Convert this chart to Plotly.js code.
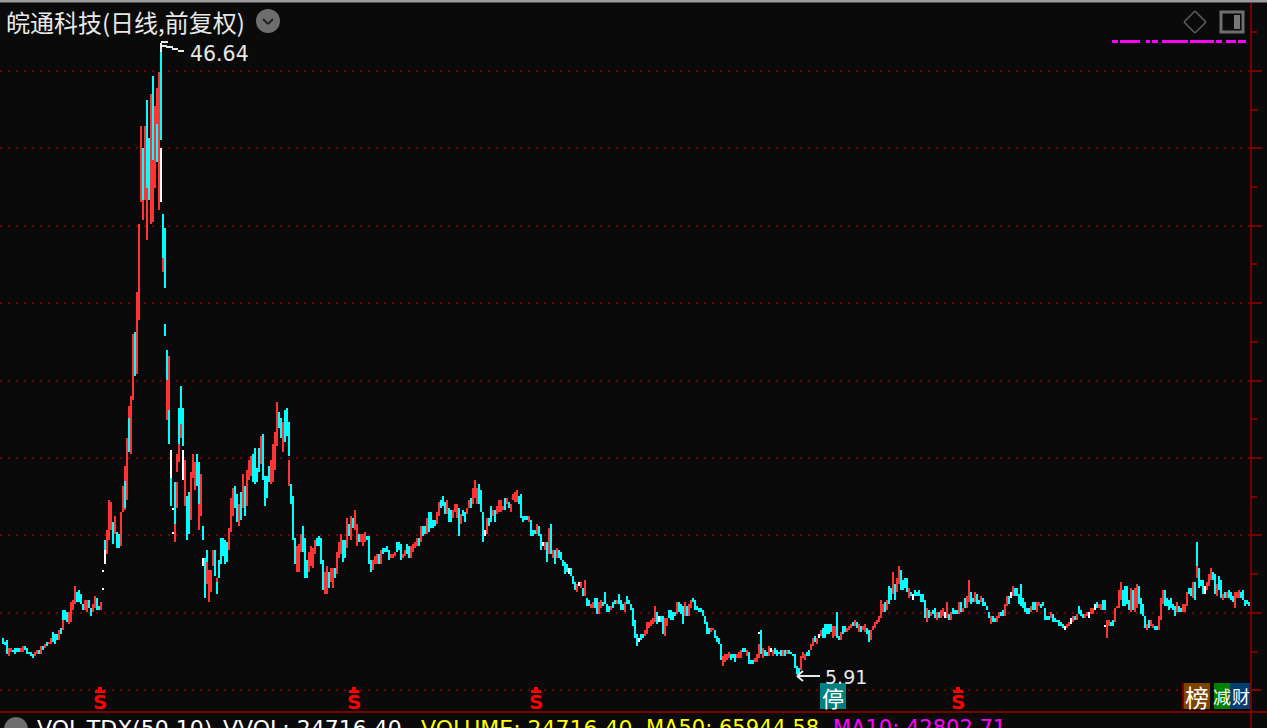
<!DOCTYPE html>
<html>
<head>
<meta charset="utf-8">
<script src="https://cdn.plot.ly/plotly-3.0.1.min.js"></script>
<style>html,body{margin:0;padding:0;background:#0a0a0a;overflow:hidden}#chart{width:1267px;height:728px}</style>
</head>
<body>
<div id="chart"></div>
<script>
const high = [
8.36,8.11,8.24,7.72,7.72,7.59,7.72,7.72,7.72,7.72,
7.85,7.85,7.72,7.46,7.46,7.33,7.46,7.59,7.59,7.85,
7.85,7.98,8.11,8.11,8.36,8.75,8.62,8.62,8.88,9.01,
10.17,10.17,10.04,10.04,10.69,10.82,11.72,11.33,11.46,11.21,
10.56,10.82,10.82,10.82,10.3,10.56,11.08,10.95,10.43,10.69,
11.6,14.71,15.36,17.30,17.17,15.88,16.26,15.23,15.10,16.52,
18.20,19.49,21.30,23.37,24.01,28.02,28.15,30.73,35.12,41.45,
40.03,41.45,43.13,40.67,43.51,44.68,42.74,43.90,44.93,46.64,
35.76,34.86,26.98,26.60,20.53,16.78,18.46,20.27,23.24,24.66,
23.24,19.88,17.56,17.81,19.10,20.27,19.75,20.27,19.75,18.98,
15.62,13.55,14.07,12.78,12.78,14.07,14.07,12.26,13.42,14.84,
14.84,14.71,14.58,15.49,17.43,18.07,18.20,17.68,17.04,17.81,
18.98,18.20,19.23,19.88,20.14,20.27,20.65,19.36,20.65,21.43,
21.56,18.85,18.85,19.49,19.88,20.91,21.69,23.63,22.98,22.59,
22.33,23.11,23.24,22.33,18.33,17.56,14.84,14.33,14.46,15.10,
15.62,14.84,13.42,13.94,14.33,14.20,14.71,14.84,14.97,14.84,
13.42,12.65,13.03,12.65,12.91,12.91,12.91,13.94,14.58,15.10,
14.71,14.71,16.13,15.75,16.26,16.13,16.65,15.75,15.10,15.10,
15.10,15.23,14.97,14.97,13.42,13.42,13.68,13.81,13.81,14.07,
14.20,14.20,14.33,14.07,13.81,13.81,13.94,14.58,14.58,14.46,
13.81,14.07,14.46,14.33,14.33,14.46,14.58,14.84,14.84,15.62,
15.62,15.62,16.13,16.52,16.52,16.01,16.01,16.52,17.17,17.30,
17.56,17.17,17.30,16.78,16.65,16.65,17.04,17.04,16.78,16.39,
16.65,16.52,16.78,17.30,17.43,18.07,18.59,18.07,18.33,17.94,
16.52,15.36,16.13,16.13,16.91,16.65,16.65,16.91,17.30,17.30,
16.91,17.43,17.43,17.17,17.04,17.68,17.81,17.94,17.56,17.68,
16.26,16.26,16.26,16.26,16.01,15.36,15.36,15.75,15.62,15.10,
14.58,14.58,14.58,15.49,15.75,14.07,14.07,14.20,14.07,13.94,
13.42,13.29,13.16,12.91,12.91,12.39,12.0,11.87,12.0,12.0,
11.61,12.13,10.97,10.84,10.58,10.71,10.97,10.97,10.71,10.84,
10.71,11.36,10.58,10.45,10.45,10.71,10.84,10.84,11.23,10.84,
10.58,10.71,11.10,10.84,10.58,10.32,9.55,8.64,8.39,8.64,
8.64,8.90,9.42,9.42,9.55,9.68,10.45,10.06,9.81,9.81,
9.81,9.68,9.68,10.19,10.19,10.06,10.06,10.71,10.71,10.58,
10.45,10.71,10.45,10.58,10.84,10.97,10.84,10.45,10.32,10.32,
10.19,9.81,9.42,9.03,9.03,9.03,8.90,8.51,8.39,8.0,
7.22,7.35,7.35,7.48,7.35,7.35,7.35,7.35,7.48,7.61,
7.74,7.74,7.61,7.48,6.97,6.97,7.09,7.35,8.0,8.90,
7.74,7.61,7.48,7.87,7.74,7.61,7.74,7.61,7.48,7.61,
7.61,7.61,7.61,7.61,7.48,7.35,7.35,6.58,6.45,7.22,
7.48,7.35,7.48,7.61,8.0,8.39,8.51,8.39,8.64,8.90,
9.03,9.29,9.29,9.29,9.29,9.16,9.16,10.06,8.51,8.77,
9.16,9.16,9.03,9.16,9.29,9.42,9.55,9.42,9.29,9.16,
9.16,9.29,9.03,8.90,8.90,9.16,9.42,9.55,9.81,10.84,
10.58,10.71,10.84,11.74,11.61,12.65,11.87,12.26,13.03,12.78,
12.13,12.26,12.26,11.61,11.36,11.23,11.49,11.36,11.49,11.23,
11.23,10.84,10.32,10.19,10.06,10.19,10.32,10.06,10.06,10.19,
10.32,10.06,10.71,9.94,10.06,10.32,10.19,10.19,10.71,10.71,
10.32,10.97,11.10,12.13,11.36,10.97,11.36,11.23,10.84,11.10,
10.97,10.71,10.45,10.06,9.81,9.81,9.68,9.81,10.06,10.06,
10.19,10.58,11.10,11.10,11.36,11.74,11.61,11.61,11.23,11.87,
10.97,10.71,10.32,10.32,10.45,10.71,10.71,10.71,10.71,10.58,
10.71,10.32,9.81,9.81,10.06,9.94,9.68,9.55,9.55,9.42,
9.29,9.16,9.29,9.42,9.68,9.81,9.81,9.94,10.45,10.19,
9.94,9.94,10.06,10.06,10.32,10.32,10.58,10.71,10.58,10.58,
10.84,10.84,9.55,9.55,9.42,9.55,10.32,10.45,11.49,12.0,
11.49,11.74,11.74,10.84,11.61,11.49,11.61,11.87,11.74,10.97,
10.58,9.81,9.29,9.55,9.55,9.29,9.16,9.16,9.81,10.97,
11.49,11.49,10.97,10.84,10.97,10.58,10.45,10.71,10.45,10.32,
10.58,10.58,11.36,11.61,11.61,12.0,12.0,14.58,12.91,12.13,
12.13,11.74,12.0,12.52,12.91,12.65,12.52,11.87,12.39,12.13,
11.23,11.36,11.36,11.49,11.36,11.10,11.36,11.36,11.49,11.36,
11.49,10.84,10.84,10.71];
const low = [
7.98,7.92,7.33,7.2,7.46,7.46,7.33,7.46,7.46,7.46,
7.46,7.59,7.33,7.33,7.2,7.07,7.2,7.33,7.33,7.33,
7.59,7.72,7.85,7.98,7.98,8.11,7.98,8.24,8.24,8.62,
9.53,9.53,9.4,9.27,9.4,10.17,10.56,10.69,10.69,10.56,
10.17,10.17,10.04,10.3,9.78,10.04,10.3,10.17,10.17,10.17,
11.5,14.07,13.81,14.71,15.36,14.46,15.10,14.20,14.20,14.33,
16.52,16.65,17.30,20.40,20.27,23.75,25.30,25.43,28.92,36.54,
36.67,36.67,37.44,36.67,35.12,39.25,37.44,39.12,36.02,40.54,
32.92,30.99,25.05,23.11,18.72,16.65,15.75,19.10,20.91,22.2,
20.78,16.91,14.71,15.10,16.01,18.72,17.94,18.20,17.04,16.26,
14.71,10.97,13.29,10.71,11.36,13.03,12.39,12.0,12.26,13.16,
13.68,13.16,13.29,14.07,15.23,16.26,16.78,15.88,15.62,16.01,
16.78,16.26,16.91,18.59,18.85,18.46,18.33,18.46,19.10,19.62,
18.59,16.91,17.43,18.46,18.33,18.46,19.23,20.78,21.95,21.30,
20.40,21.04,21.43,20.14,17.04,14.71,13.16,12.65,12.65,13.94,
13.94,12.26,12.26,12.65,13.03,12.91,13.81,14.33,14.33,13.16,
11.49,11.23,11.23,11.61,12.0,11.61,12.26,12.52,13.55,13.81,
13.29,13.55,14.20,14.97,14.71,15.49,15.36,14.33,14.58,14.58,
14.33,14.58,14.71,13.16,12.65,12.78,13.16,13.16,13.16,13.16,
13.81,13.94,13.94,13.42,13.55,13.55,13.68,13.94,14.07,13.42,
13.55,13.68,13.81,13.55,13.55,13.94,14.20,14.33,14.33,14.58,
14.97,15.10,15.10,15.23,15.49,15.49,15.62,15.75,16.26,16.78,
16.91,16.39,16.39,15.88,15.88,16.13,16.52,16.13,14.97,15.75,
16.26,15.88,16.39,16.78,16.78,17.04,17.43,17.04,17.04,16.52,
14.58,14.97,15.10,15.62,15.88,16.26,15.88,16.39,16.52,16.52,
16.65,16.65,17.04,16.78,16.52,17.30,17.17,17.17,17.04,16.13,
15.88,16.01,16.01,15.88,14.97,14.97,15.10,15.10,14.97,14.07,
14.33,14.07,13.29,13.81,13.81,13.55,13.16,13.55,13.55,13.42,
13.03,12.52,12.65,12.52,12.39,11.87,11.49,11.36,11.74,11.61,
11.10,11.10,10.45,10.45,10.32,10.32,10.32,9.94,9.94,10.32,
10.45,10.58,10.06,10.06,10.19,10.32,10.58,10.58,10.58,10.19,
10.19,10.06,10.58,10.58,10.19,9.16,8.39,7.87,8.13,8.26,
8.39,8.51,8.64,9.03,9.16,9.29,9.42,9.29,9.42,9.42,
8.64,8.51,9.16,9.68,9.55,9.55,9.81,9.94,10.06,9.94,
9.29,9.81,9.81,9.81,10.32,10.71,10.19,10.19,10.06,10.06,
9.81,9.29,8.64,8.64,8.77,8.90,8.39,8.13,8.0,6.97,
6.58,6.84,6.97,7.09,6.97,7.09,6.84,7.09,7.09,7.09,
7.48,7.48,7.22,6.71,6.71,6.71,6.84,6.84,7.09,7.35,
7.09,7.22,7.22,7.22,7.48,7.22,7.35,7.22,7.35,7.22,
7.22,7.22,7.35,7.35,7.35,7.22,6.45,6.06,5.91,6.32,
7.09,6.97,7.22,7.22,7.61,7.87,8.13,8.0,8.39,8.51,
8.39,8.39,8.64,8.64,8.77,8.39,8.51,8.39,8.26,8.26,
8.64,8.77,8.77,8.90,9.03,9.16,9.16,9.03,8.77,8.77,
8.90,8.77,8.64,8.13,8.26,8.90,9.03,9.29,9.42,9.68,
10.06,10.06,10.19,10.58,10.84,11.23,10.84,11.36,11.87,11.49,
11.49,11.61,11.36,10.97,11.10,10.84,11.10,11.10,11.10,10.71,
10.71,9.68,9.42,9.68,9.81,9.94,9.68,9.55,9.68,9.68,
9.81,9.68,9.68,9.55,9.55,9.94,9.94,9.94,9.94,10.06,
10.06,10.32,10.32,10.71,10.58,10.71,10.71,10.58,10.58,10.71,
10.45,10.45,10.19,9.68,9.29,9.42,9.42,9.42,9.68,9.81,
9.81,9.81,10.45,10.58,10.97,11.10,11.10,11.10,10.58,10.45,
10.32,10.06,9.94,9.94,10.06,10.19,10.19,10.06,10.45,10.32,
10.45,9.55,9.55,9.55,9.68,9.42,9.42,9.42,9.16,9.16,
9.03,8.90,9.03,9.16,9.29,9.42,9.55,9.55,9.94,9.81,
9.68,9.68,9.81,9.68,9.94,9.94,10.19,10.32,10.32,10.19,
10.19,10.19,8.39,9.16,9.16,9.16,9.42,10.32,10.32,10.84,
10.45,10.45,10.58,10.19,10.06,10.19,10.06,10.32,10.58,9.94,
9.81,9.03,8.90,9.03,9.16,9.03,8.90,8.90,8.90,9.55,
10.58,10.45,10.45,10.19,10.32,10.19,9.81,10.06,10.06,10.06,
10.06,10.06,10.45,11.23,11.10,10.97,10.84,13.03,11.61,11.74,
11.23,11.23,11.49,11.74,12.13,12.13,11.23,11.10,11.49,10.97,
10.84,10.97,10.97,10.97,10.84,10.71,10.32,10.97,10.97,10.97,
10.84,10.45,10.58,10.45];
// r = rising day, c = falling day, w = unchanged day
const tone = [
"cccrrccccr","rcccccrrcr","crcrrcccrc","cccrrrrccc","crrccrrccr",
"wcrrrcrccr","rrrrrrcrrr","crccrcrrrc","cccrwwcrcc","crccrrrccr",
"cccrrrcrcc","cccrrrccrc","rcrrrccccr","ccccrrrrcc","rccccccrrr",
"cccrrrrccc","crrcrrcrrr","ccrcrcrrcr","rrcccrrrcr","ccccrrrccc",
"rrccrrrrcr","ccrccccrrc","ccrccrrrcr","ccrrcrrrcc","cwrccrcrrr",
"rcrcrrrrcc","cccrcccrcc","wrcrcrcrcc","cccwcccrwr","crccrrccrr",
"ccccrccrcc","crccccccwc","crrrrrrcwc","crrccccrcc","crcrrccccc",
"ccccrrcccc","rrrrcccrrr","ccrcccrrrc","rccrwrcccc","rcrccccccr",
"rrccrrcrwr","cccccrrccr","ccrrrcrcrc","rrccrrrrrr","rcrccrcrrc",
"cccrcwcccc","ccrcrccrcr","rwrcrcccrc","rcrrccrccr","ccccrccrrc",
"crrcwrcccc","ccccrccrrc","ccccrccccc","cwrrwrcrcc","crrwrrwcrr",
"ccrrccrrrr","ccccrcrrcc","ccrcrrccrr","rccccccrcc","rrrccrcccc",
"cwrrrccrcc","rcrcccrrrc","cccc"].join("");
// Second colour inside a day's column, or a detached stretch of it
const extraDay  = [30,50,51,61,63,70,72,75,77,79,80,81,82,83,84,85,86,87,88,89,90,98,100,102,107,143,378,551,597];
const extraHigh = [9.53,12.78,14.07,18.52,22.59,36.67,37.44,39.25,41.58,40.03,32.92,28.66,25.05,23.11,18.72,15.23,15.75,18.46,20.91,22.2,20.53,17.04,13.55,13.29,12.0,19.88,8.77,9.2,13.03];
const extraLow  = [8.88,12.65,13.16,16.78,20.40,35.38,34.09,35.25,39.12,36.54,32.02,27.89,22.46,20.91,16.91,15.10,14.58,16.78,19.75,21.30,18.59,15.36,13.03,11.87,11.23,18.20,8.64,9.1,12.26];
const extraTone = "rwwccrrrcwrcrccwrrrrwrwrcrwwr";
const titleText = "皖通科技(日线,前复权)";
const peakLabel = "46.64";
const troughLabel = "5.91";
const indicatorLabels = ["VOL-TDX(50,10)","VVOL: 24716.40","VOLUME: 24716.40","MA50: 65944.58","MA10: 42802.71"];
const signalDays = [48,175,266,477];

const palette = {r:"#ff3333", c:"#00ffff", w:"#ffffff"};
const W=1251, T=3, B=712;
const X = p => p/W, Y = p => 1-(p-T)/(B-T);
const days = high.map((_,i)=>i);

const traces = [
 {type:"bar", x:days, base:low, y:high.map((h,i)=>h-low[i]), width:1,
  marker:{color:days.map(i=>palette[tone[i]]), line:{width:0}}, hoverinfo:"skip", showlegend:false},
 {type:"bar", x:extraDay, base:extraLow, y:extraHigh.map((h,i)=>h-extraLow[i]), width:1,
  marker:{color:extraDay.map((_,i)=>palette[extraTone[i]]), line:{width:0}}, hoverinfo:"skip", showlegend:false}
];

const DARK="#7a0000", TXT="#e8e8e8", CJK='"Noto Sans CJK SC","Noto Sans",sans-serif', LAT='"DejaVu Sans",sans-serif';
const rect=(x0,y0,x1,y1,fill,line,lw)=>({type:"rect",xref:"paper",yref:"paper",x0:X(x0),x1:X(x1),y0:Y(y0),y1:Y(y1),fillcolor:fill||"rgba(0,0,0,0)",line:{color:line||"rgba(0,0,0,0)",width:lw||0}});
const seg=(x0,y0,x1,y1,c,w)=>({type:"line",xref:"paper",yref:"paper",x0:X(x0),x1:X(x1),y0:Y(y0),y1:Y(y1),line:{color:c,width:w}});
const note=(t,x,y,size,color,anchor,fam,ya)=>({text:t,xref:"paper",yref:"paper",x:X(x),y:Y(y),xanchor:anchor||"left",yanchor:ya||"middle",showarrow:false,borderpad:0,font:{size:size,color:color,family:fam||LAT}});

const shapes=[
 rect(0,0,1267,2.5,"#9a9a9a"),
 seg(0,712,1267,712,DARK,2),
 seg(1251,3,1251,728,DARK,2),
 // peak and trough pointers
 seg(161,43,161,52,TXT,2), seg(161,42,168,42,TXT,2), seg(161,46,167,46,TXT,2),
 seg(166,47,173,47,TXT,2), seg(172,49,178,49,TXT,2), seg(178,51,184,51,TXT,2),
 seg(797,676,820,676,TXT,2), seg(797,676,803,671,TXT,2), seg(797,676,803,681,TXT,2),
 // header icons
 {type:"circle",xref:"paper",yref:"paper",x0:X(256),x1:X(280),y0:Y(9),y1:Y(33),fillcolor:"#6e6e6e",line:{width:0}},
 seg(263,19,268,24,"#222",2), seg(268,24,273,19,"#222",2),
 {type:"circle",xref:"paper",yref:"paper",x0:X(4),x1:X(28),y0:Y(717),y1:Y(741),fillcolor:"#6e6e6e",line:{width:0}},
 seg(1184,22,1195,11,"#5e5e5e",1.5), seg(1195,11,1206,22,"#5e5e5e",1.5), seg(1206,22,1195,33,"#5e5e5e",1.5), seg(1195,33,1184,22,"#5e5e5e",1.5),
 rect(1221,12,1243,32,null,"#6e6e6e",3), rect(1234,15,1240,29,"#777777"),
 // magenta strip
 ...[[1112,1118],[1120,1140],[1146,1150],[1152,1158],[1162,1188],[1190,1214],[1216,1222],[1226,1236],[1238,1246]].map(d=>rect(d[0],40,d[1],43,"#ff00ff")),
 // badges
 rect(820,683,846,709,"#007f7f"),
 rect(1182,683,1184,709,DARK), rect(1184,683,1210,709,"#7f4400"),
 rect(1214,683,1230,709,"#007f00"), rect(1230,683,1250,709,"#003f6f")
];

const annotations=[
 note(titleText,5,22,24,TXT,"left",CJK),
 note(peakLabel,189,54,20.5,TXT),
 note(troughLabel,824,677,19,TXT),
 note("停",833,697,22,"#ffffff","center",CJK),
 note("榜",1197,696,24,"#ffffff","center",CJK),
 note("减",1222,696,18,"#ffffff","center",CJK),
 note("财",1241,696,18,"#ffffff","center",CJK),
 note(indicatorLabels[0],36,715,22,"#ffffff","left",LAT,"top"),
 note(indicatorLabels[1],222,715,22,"#ffffff","left",LAT,"top"),
 note(indicatorLabels[2],420,715,22,"#ffff00","left",LAT,"top"),
 note(indicatorLabels[3],645,715,21,"#ffff00","left",LAT,"top"),
 note(indicatorLabels[4],832,715,21,"#ff00ff","left",LAT,"top")
];
signalDays.forEach(d=>{
 const px=4+2*d;
 shapes.push(rect(px-2,687,px+2,690,"#ff0000"));
 shapes.push(rect(px-5,690,px+5,693,"#ff0000"));
 annotations.push(note("<b>S</b>",px,702,20,"#ff0000","center",LAT));
});

const layout={
 width:1267,height:728,autosize:false,
 margin:{l:0,r:16,t:T,b:16,pad:0},
 paper_bgcolor:"#0a0a0a",plot_bgcolor:"#0a0a0a",
 barmode:"overlay",bargap:0,showlegend:false,
 xaxis:{range:[-1.5,624],showgrid:false,zeroline:false,showline:false,ticks:"",showticklabels:false,fixedrange:true},
 yaxis:{range:[3.6,49.38],side:"right",tickmode:"linear",tick0:0,dtick:5,showticklabels:false,
  ticks:"outside",ticklen:10,tickwidth:2,tickcolor:DARK,
  minor:{dtick:2.5,ticks:"outside",ticklen:5,tickwidth:2,tickcolor:DARK,showgrid:false},
  showgrid:true,gridcolor:"#7a0000",gridwidth:2,griddash:"2px,6px",zeroline:false,showline:false,fixedrange:true},
 shapes:shapes,annotations:annotations
};
Plotly.newPlot("chart",traces,layout,{displayModeBar:false,staticPlot:true});
</script>
</body>
</html>
